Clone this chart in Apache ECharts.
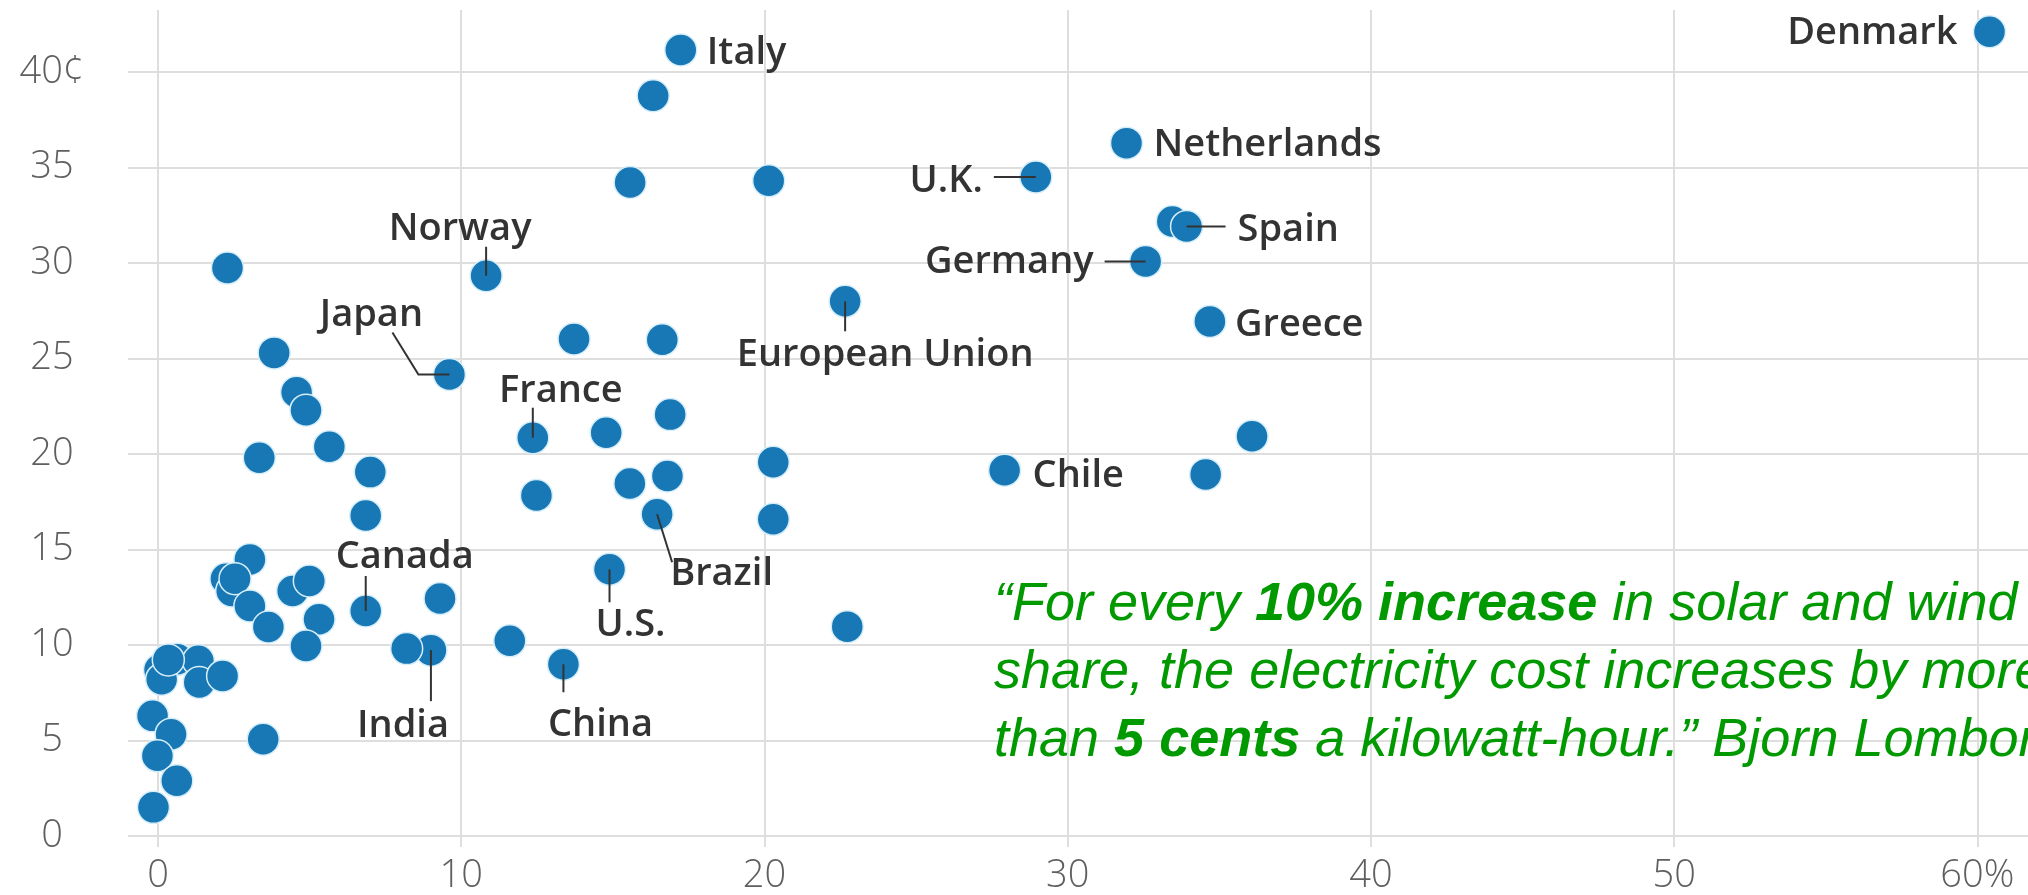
<!DOCTYPE html>
<html>
<head>
<meta charset="utf-8">
<script src="https://cdn.jsdelivr.net/npm/echarts@6/dist/echarts.min.js"></script>
<style>
  html, body { margin: 0; padding: 0; background: #ffffff; }
  #chart { width: 2028px; height: 895px; }
</style>
</head>
<body>
<div id="chart"></div>
<script>
// Share of electricity from solar and wind (%) vs. household electricity price (cents per kWh)
const countryNames = [
  'Denmark', 'Italy', '', '', '', 'U.K.', 'Netherlands', '', 'Spain', 'Germany',
  'Greece', 'European Union', '', '', 'Chile', '', '', '', '', 'Norway',
  '', '', 'Japan', '', '', '', '', 'France', '', '',
  '', '', '', '', '', '', 'Brazil', 'U.S.', '', 'China',
  'India', '', '', 'Canada', '', '', '', '', '', '',
  '', '', '', '', '', '', '', '', '', '',
  '', '', '', '', '', ''
];
const solarWindShare = [
  60.4, 17.24, 16.33, 15.57, 20.14, 28.95, 31.94, 33.45, 33.92, 32.57,
  34.69, 22.66, 36.08, 34.55, 27.92, 20.29, 20.29, 22.73, 2.29, 10.82,
  3.83, 13.72, 9.61, 4.57, 4.88, 5.65, 3.34, 12.36, 14.78, 7.0,
  12.48, 6.85, 16.63, 16.89, 15.56, 16.8, 16.46, 14.89, 11.6, 13.37,
  9.0, 8.2, 9.3, 6.85, 3.47, 3.03, 2.24, 2.43, 2.54, 3.03,
  3.64, 4.44, 4.99, 5.31, 4.88, 0.05, 0.64, 0.12, 1.33, 1.36,
  2.13, 0.34, -0.18, 0.43, -0.02, 0.62, -0.15
];
const electricityPrice = [
  42.1, 41.15, 38.75, 34.21, 34.3, 34.5, 36.27, 32.17, 31.91, 30.08,
  26.94, 27.99, 20.93, 18.93, 19.15, 19.57, 16.58, 10.96, 29.73, 29.33,
  25.29, 26.02, 24.16, 23.23, 22.29, 20.38, 19.8, 20.85, 21.11, 19.05,
  17.83, 16.78, 25.98, 22.06, 18.45, 18.85, 16.84, 13.96, 10.22, 8.99,
  9.73, 9.81, 12.43, 11.78, 5.07, 14.48, 13.47, 12.83, 13.47, 12.04,
  10.94, 12.83, 13.35, 11.35, 9.95, 8.7, 9.25, 8.21, 9.17, 8.04,
  8.38, 9.22, 6.29, 5.33, 4.2, 2.89, 1.5
];
const xTickValues = [0, 10, 20, 30, 40, 50, 60];
const yTickValues = [0, 5, 10, 15, 20, 25, 30, 35, 40];

// Callout placement for named countries: pixel offsets from the dot centre
const labelPlacement = {
  'Italy':          { text: [26, 3, 'left'] },
  'Denmark':        { text: [-32, 1, 'right'] },
  'Netherlands':    { text: [27, 2, 'left'] },
  'U.K.':           { text: [-53, 4, 'right'], leader: [[-42, 0], [0, 0]] },
  'Spain':          { text: [51, 4, 'left'], leader: [[0, 0], [39, 0]] },
  'Germany':        { text: [-52, 1, 'right'], leader: [[-41, 0], [0, 0]] },
  'Greece':         { text: [25, 4, 'left'] },
  'European Union': { text: [40, 54, 'center'], leader: [[0, 0], [0, 30]] },
  'Norway':         { text: [-26, -47, 'center'], leader: [[0, 0], [0, -29]] },
  'Japan':          { text: [-78, -59, 'center'], leader: [[0, 0], [-31, 0], [-57, -42]] },
  'France':         { text: [28, -47, 'center'], leader: [[0, 0], [0, -30]] },
  'Canada':         { text: [39, -54, 'center'], leader: [[0, 0], [0, -35]] },
  'India':          { text: [-28, 76, 'center'], leader: [[0, 0], [0, 51]] },
  'China':          { text: [37, 61, 'center'], leader: [[0, 0], [0, 28]] },
  'U.S.':           { text: [21, 56, 'center'], leader: [[0, 0], [0, 33]] },
  'Brazil':         { text: [13, 60, 'left'], leader: [[0, 0], [15, 48]] },
  'Chile':          { text: [28, 6, 'left'] }
};

const points = solarWindShare.map((x, i) => [x, electricityPrice[i], i]);
const namedPoints = points.filter(p => countryNames[p[2]]);

const tickFont = '"Open Sans", sans-serif';
const labelFont = '600 38px "Open Sans", sans-serif';
const quoteFont = '"Liberation Sans", Arial, sans-serif';

const chart = echarts.init(document.getElementById('chart'), null, { renderer: 'canvas' });

chart.setOption({
  animation: false,
  backgroundColor: '#ffffff',
  grid: { left: 128, right: 0, top: 10, bottom: 47, containLabel: false },
  title: {
    left: 994,
    top: 571,
    padding: 0,
    text: '{i|\u201CFor every }{b|10% increase}{i| in solar and wind}\n' +
          '{i|share, the electricity cost increases by more}\n' +
          '{i|than }{b|5 cents}{i| a kilowatt-hour.\u201D Bjorn Lomborg}',
    textStyle: {
      fontWeight: 'normal',
      rich: {
        i: { fontFamily: quoteFont, fontStyle: 'italic', fontWeight: 'normal', fontSize: 54, color: '#009900', lineHeight: 68 },
        b: { fontFamily: quoteFont, fontStyle: 'italic', fontWeight: 'bold', fontSize: 54, color: '#009900', lineHeight: 68 }
      }
    }
  },
  xAxis: {
    type: 'value',
    min: -0.99,
    max: 61.67,
    axisLine: { show: false, onZero: false },
    axisTick: { show: false },
    splitLine: { show: false },
    axisLabel: {
      customValues: xTickValues,
      formatter: v => (v === 60 ? v + '%' : String(v)),
      margin: 29,
      verticalAlign: 'middle',
      fontFamily: tickFont,
      fontWeight: 300,
      fontSize: 38,
      color: '#5f5f5f'
    }
  },
  yAxis: {
    type: 'value',
    min: -0.575,
    max: 43.24,
    axisLine: { show: false, onZero: false },
    axisTick: { show: false },
    splitLine: { show: false },
    axisLabel: {
      customValues: yTickValues,
      formatter: v => (v === 40 ? v + '\u00A2' : String(v)),
      margin: 76,
      align: 'center',
      verticalAlign: 'middle',
      padding: [0, 0, 8, 0],
      fontFamily: tickFont,
      fontWeight: 300,
      fontSize: 38,
      color: '#5f5f5f'
    }
  },
  series: [
    {
      // gridlines
      type: 'scatter',
      data: [],
      z: 1,
      silent: true,
      markLine: {
        z: 0,
        silent: true,
        symbol: 'none',
        label: { show: false },
        lineStyle: { color: '#dedede', width: 2, type: 'solid' },
        data: xTickValues.map(v => ({ xAxis: v })).concat(yTickValues.map(v => ({ yAxis: v })))
      }
    },
    {
      type: 'scatter',
      z: 2,
      symbolSize: 32,
      itemStyle: { color: '#1878b5', borderColor: '#d6eef9', borderWidth: 1.5, opacity: 1 },
      data: points
    },
    {
      // country callouts
      type: 'custom',
      z: 3,
      silent: true,
      clip: false,
      data: namedPoints,
      renderItem: (params, api) => {
        const c = api.coord([api.value(0), api.value(1)]);
        const name = countryNames[api.value(2)];
        const lay = labelPlacement[name];
        const children = [];
        if (lay.leader) {
          children.push({
            type: 'polyline',
            shape: { points: lay.leader.map(o => [c[0] + o[0], c[1] + o[1]]) },
            style: { stroke: '#333333', lineWidth: 2, fill: null }
          });
        }
        children.push({
          type: 'text',
          x: c[0] + lay.text[0],
          y: c[1] + lay.text[1],
          style: {
            text: name,
            fill: '#333333',
            font: labelFont,
            align: lay.text[2],
            verticalAlign: 'middle'
          }
        });
        return { type: 'group', children };
      }
    }
  ]
});
</script>
</body>
</html>
